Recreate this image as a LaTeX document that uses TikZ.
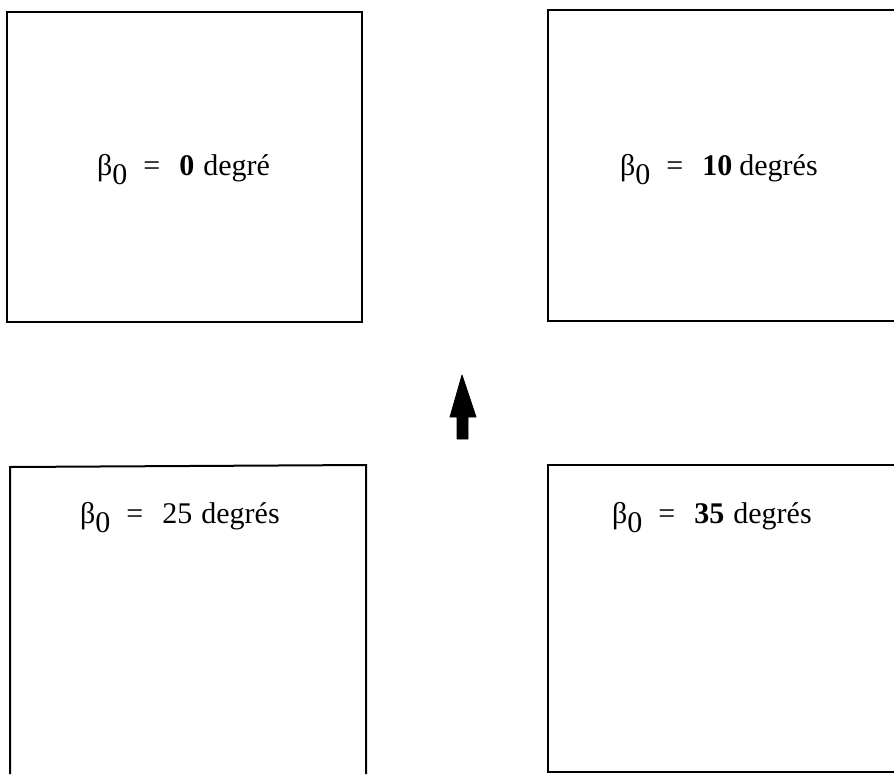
\documentclass[tikz,border=0pt]{standalone}
\usepackage{fontspec}
\setmainfont{Liberation Serif}
\newcommand{\bzero}{β\raisebox{-0.32em}{0}}
\newcommand{\betaeq}[1]{\bzero\hspace{16pt}=\hspace{19pt}#1}
\begin{document}
\begin{tikzpicture}[x=1pt,y=-1pt,
  frame/.style={line width=2pt, line join=miter},
  label/.style={anchor=base west, inner sep=0pt, font=\fontsize{30}{34}\selectfont},
  bigarrow/.style={fill=black, draw=black, line width=0.8pt, line join=round}]
\useasboundingbox (0,0) rectangle (894,774);
% boxes
\draw[frame] (7,12) rectangle (362,322);
\draw[frame] (894,10) -- (548,10) -- (548,321) -- (894,321);
\draw[frame] (10,774) -- (10,467) -- (366,465) -- (366,774);
\draw[frame] (894,465) -- (548,465) -- (548,772) -- (894,772);
% labels
\node[label] (t1) at (97,175) {\betaeq{\textbf{0}}\hspace{9pt}degré};
\node[label] (t2) at (620,175) {\betaeq{\textbf{10}}\hspace{7pt}degrés};
\node[label] (t3) at (80,523) {\betaeq{25}\hspace{9pt}degrés};
\node[label] (t4) at (612,523) {\betaeq{\textbf{35}}\hspace{9pt}degrés};
% arrow
\coordinate (tip) at (462,375);
\path[bigarrow] (tip) -- (476,417) -- (468,417) -- (468,439) -- (457,439) -- (457,417) -- (450,417) -- cycle;
\end{tikzpicture}
\end{document}
